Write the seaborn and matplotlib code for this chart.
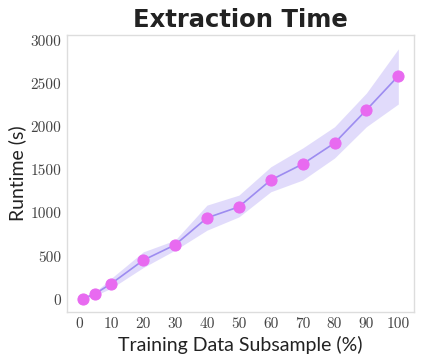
import matplotlib
matplotlib.use("Agg")
import matplotlib.pyplot as plt
import seaborn as sns
import pandas as pd
import numpy as np

subsample = [1, 5, 10, 20, 30, 40, 50, 60, 70, 80, 90, 100]
runtime = [5, 66, 182, 453, 632, 945, 1073, 1384, 1570, 1814, 2198, 2593]
runtime_low = [0, 45, 128, 368, 570, 802, 956, 1248, 1384, 1640, 2004, 2267]
runtime_high = [12, 88, 244, 550, 686, 1093, 1209, 1538, 1756, 2003, 2395, 2907]
xticks = [0, 10, 20, 30, 40, 50, 60, 70, 80, 90, 100]
yticks = [0, 500, 1000, 1500, 2000, 2500, 3000]

sns.set_theme(style="white")
plt.rcParams["font.family"] = ["Lato", "DejaVu Sans"]

df = pd.DataFrame({"x": subsample, "y": runtime})

fig = plt.figure(figsize=(4.23, 3.63), dpi=100)
ax = fig.add_axes([0.158, 0.140, 0.821, 0.764])

line_color = "#9d8cf0"
ax.fill_between(subsample, runtime_low, runtime_high, color="#c9bff8", alpha=0.55, linewidth=0)
sns.lineplot(data=df, x="x", y="y", ax=ax, color=line_color, linewidth=1.2,
             marker="o", markersize=8, markerfacecolor="#e86af0", markeredgecolor="#e86af0")

ax.set_xlim(-3.95, 104.95)
ax.set_ylim(-150, 3070)
ax.set_xticks(xticks)
ax.set_yticks(yticks)
ax.set_xticklabels([str(t) for t in xticks], fontfamily="cmr10", fontsize=11, color="#444444")
ax.set_yticklabels([str(t) for t in yticks], fontfamily="cmr10", fontsize=11, color="#444444")
ax.tick_params(axis="both", length=0, pad=4)

ax.set_xlabel("Training Data Subsample (%)", fontsize=14, color="#222222", labelpad=3)
ax.set_ylabel("Runtime (s)", fontsize=14, color="#222222", labelpad=3)
ax.set_title("Extraction Time", fontsize=17.5, fontweight="bold", fontfamily=["DejaVu Sans"],
             color="#222222", pad=6)

for s in ax.spines.values():
    s.set_color("#dddddd")
    s.set_linewidth(1.0)

fig.savefig("out.png", dpi=100)
